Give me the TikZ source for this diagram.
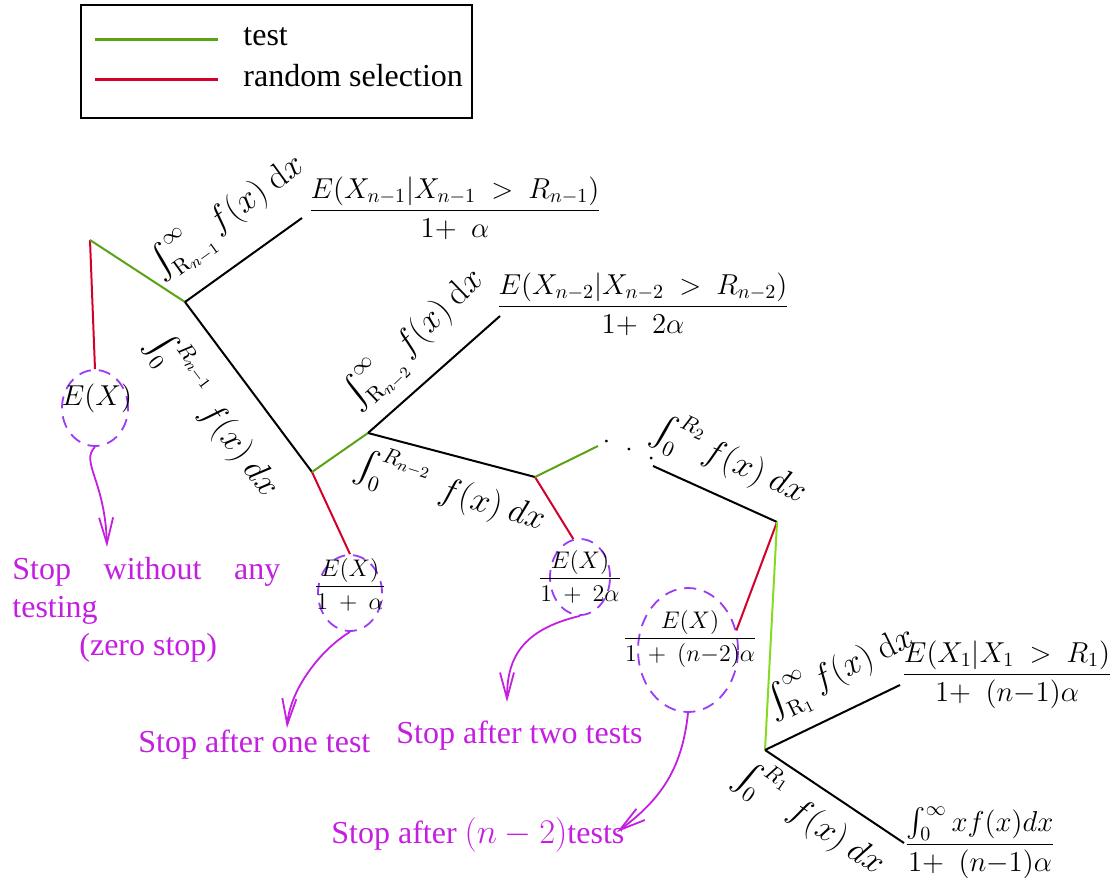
\documentclass[tikz,border=0pt]{standalone}
\usepackage{amsmath}
\usepackage[no-math]{fontspec}
\setmainfont{Liberation Serif}
\usetikzlibrary{shapes.geometric,arrows.meta}
\definecolor{tgreen}{HTML}{5AA314}
\definecolor{tlime}{HTML}{84DC22}
\definecolor{tred}{HTML}{D4002C}
\definecolor{tviolet}{HTML}{9B3CF5}
\definecolor{tmag}{HTML}{C41EE0}
\tikzset{
  tline/.style={line width=1pt,black},
  gline/.style={line width=1pt,tgreen},
  rline/.style={line width=1pt,tred},
  dcirc/.style={ellipse,draw=tviolet,dashed,dash pattern=on 6pt off 4pt,line width=0.9pt,inner sep=0pt},
  marr/.style={line width=0.9pt,tmag,-{Straight Barb[length=13pt,width=7pt,line width=0.9pt]}},
  mtxt/.style={text=tmag,font=\fontsize{16}{19}\selectfont,inner sep=0pt},
  lab/.style={font=\fontsize{16}{19}\selectfont,inner sep=0pt},
  elab/.style={font=\fontsize{15}{18}\selectfont,inner sep=0pt},
  flab/.style={font=\fontsize{14.4}{17}\selectfont,inner sep=0pt},
  clab/.style={font=\fontsize{11.5}{14}\selectfont,inner sep=0pt},
}
\begin{document}
\begin{tikzpicture}[x=0.5pt,y=-0.5pt]
\useasboundingbox (0,0) rectangle (1111,877);
% legend
\node[draw=black,line width=1pt,minimum width=195.5pt,minimum height=56.5pt,inner sep=0pt,anchor=north west] (leg) at (80,4) {};
\coordinate (lg1) at (95,40); \coordinate (lg2) at (218,40);
\coordinate (lr1) at (95,80); \coordinate (lr2) at (218,80);
\draw[tgreen,line width=1.5pt] (lg1) -- (lg2);
\draw[tred,line width=1.5pt] (lr1) -- (lr2);
\node[mtxt,text=black,anchor=base west] (lt) at (243,46) {test};
\node[mtxt,text=black,anchor=base west] (lrs) at (243,87) {random selection};
% tree points
\coordinate (A) at (90,240);
\coordinate (B) at (185,302);
\coordinate (B1) at (302,218);
\coordinate (C) at (312,472);
\coordinate (D) at (368,433);
\coordinate (D1) at (500,316);
\coordinate (F) at (535,477);
\coordinate (F1) at (598,446);
\coordinate (G0) at (653,466);
\coordinate (G) at (777,522);
\coordinate (H) at (765,750);
\coordinate (H1) at (900,685);
\coordinate (H2) at (904,843);
% circles
\node[dcirc,minimum width=33pt,minimum height=38pt] (c1) at (95,408) {};
\node[dcirc,minimum width=32pt,minimum height=38pt] (c2) at (350,593) {};
\node[dcirc,minimum width=30pt,minimum height=38pt] (c3) at (580,577) {};
\node[dcirc,minimum width=50pt,minimum height=62pt] (c4) at (688,650) {};
\node[elab] (t1) at (97,398) {$E(X)$};
\node[clab] (t2) at (350,585) {$\dfrac{E(X)}{1\ +\ \alpha}$};
\node[clab] (t3) at (580,577) {$\dfrac{E(X)}{1\ +\ 2\alpha}$};
\node[clab] (t4) at (690,639) {$\dfrac{E(X)}{1\ +\ (n{-}2)\alpha}$};
% branches
\draw[rline] (A) -- (c1.north);
\draw[gline] (A) -- (B);
\draw[tline] (B) -- (B1);
\draw[tline] (B) -- (C);
\draw[rline] (C) -- (c2.north);
\draw[gline] (C) -- (D);
\draw[tline] (D) -- (D1);
\draw[tline] (D) -- (F);
\draw[rline] (F) -- (c3.100);
\draw[gline] (F) -- (F1);
\node[elab,rotate=-20] (dots) at (629,450) {$.\hspace{8pt}.\hspace{8pt}.$};
\draw[tline] (G0) -- (G);
\draw[rline] (G) -- (c4.22);
\draw[tlime,line width=1pt] (G) -- (H);
\draw[tline] (H) -- (H1);
\draw[tline] (H) -- (H2);
% branch labels
\node[lab,rotate=36] (l1) at (229,218) {$\int_{\mathrm{R}_{n-1}}^{\infty} f(x)\ \mathrm{d}x$};
\node[lab,rotate=-53] (l2) at (215,414) {$\int_0^{R_{n-1}}\ f(x)\ dx$};
\node[lab,rotate=44] (l3) at (416,340) {$\int_{\mathrm{R}_{n-2}}^{\infty} f(x)\ \mathrm{d}x$};
\node[lab,rotate=-17] (l4) at (451,491) {$\int_0^{R_{n-2}}\ f(x)\ dx$};
\node[lab,rotate=-24] (l5) at (730,459) {$\int_0^{R_2} f(x)\ dx$};
\node[lab,rotate=26] (l6) at (841,673) {$\int_{\mathrm{R}_1}^{\infty} f(x)\ \mathrm{d}x$};
\node[lab,rotate=-34] (l7) at (811,818) {$\int_0^{R_1}\ f(x)\ dx$};
% leaves
\node[flab] (f1) at (455,208) {$\dfrac{E(X_{n-1}|X_{n-1}\ >\ R_{n-1})}{1{+}\ \ \alpha}$};
\node[flab] (f2) at (643,304) {$\dfrac{E(X_{n-2}|X_{n-2}\ >\ R_{n-2})}{1{+}\ \ 2\alpha}$};
\node[flab] (f3) at (1007,675) {$\dfrac{E(X_1|X_1\ >\ R_1)}{1{+}\ \ (n{-}1)\alpha}$};
\node[flab] (f4) at (980,843) {$\dfrac{\textstyle\int_0^\infty xf(x)dx}{1{+}\ \ (n{-}1)\alpha}$};
% stop texts
\node[mtxt,anchor=base west] (s0) at (12,579) {\parbox[t]{134pt}{Stop\hfill without\hfill any\\testing\\\hspace*{33.5pt}(zero stop)}};
\node[mtxt,anchor=base west] (s1) at (138,752) {Stop after one test};
\node[mtxt,anchor=base west] (s2) at (396,743) {Stop after two tests};
\node[mtxt,anchor=base west] (s3) at (331,843) {Stop after $(n-2)$tests};
% arrows
\coordinate (a1e) at (107,547);
\coordinate (a2e) at (287,728);
\coordinate (a3e) at (507,702);
\coordinate (a4e) at (617,832);
\draw[marr] (c1.south) .. controls (80,462) and (105,480) .. (a1e);
\draw[marr] (c2.south) .. controls (320,650) and (290,690) .. (a2e);
\draw[marr] (c3.south) .. controls (520,630) and (507,660) .. (a3e);
\draw[marr] (c4.south) .. controls (682,770) and (660,800) .. (a4e);
\end{tikzpicture}
\end{document}
